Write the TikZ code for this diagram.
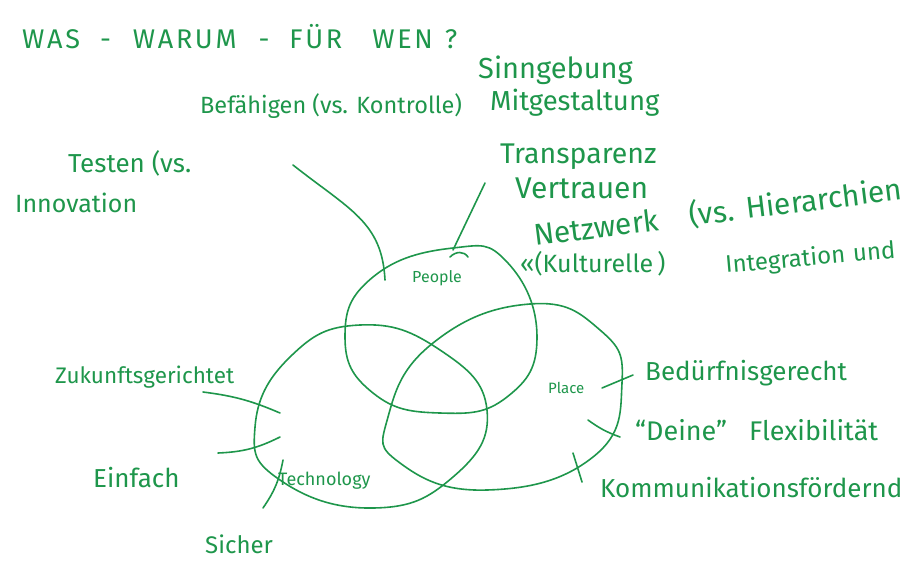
\documentclass[tikz,border=0pt]{standalone}
\usepackage{fontspec}
\setmainfont{Fira Sans}
\usepackage{xcolor}
\usepackage{tikz}
\usetikzlibrary{positioning,calc}

\definecolor{pen}{RGB}{30,150,75}

\begin{document}
\begin{tikzpicture}[x=1pt,y=-1pt,
  every node/.style={text=pen,inner sep=0pt,anchor=base west},
  hand/.style={font=\fontsize{#1}{#1}\selectfont},
  stroke/.style={draw=pen,line width=1.6pt,line cap=round,line join=round}]
  \useasboundingbox (0,0) rectangle (917,563);

  % title
  \node (title) [hand=27] at (22,48)
    {\addfontfeature{LetterSpace=10}WAS\hspace{20pt}-\hspace{22pt}WARUM\hspace{22pt}-\hspace{20pt}FÜR\hspace{30pt}WEN\hspace{12pt}?};

  % the three sets
  \draw[stroke] plot[smooth cycle,tension=0.8] coordinates
    {(453,248) (507,262) (537,337) (507,397) (440,413) (373,393) (345,337) (373,277)};
  \draw[stroke] plot[smooth cycle,tension=0.8] coordinates
    {(255,427) (290,357) (360,325) (440,350) (487,410) (453,477) (373,508) (280,480)};
  \draw[stroke] plot[smooth cycle,tension=0.8] coordinates
    {(388,417) (433,343) (530,304) (600,330) (622,383) (593,457) (487,490) (400,463)};

  \node (people) [hand=16] at (412,282) {People};
  \node (techn) [hand=18] at (278,485) {Technology};
  \node (place) [hand=15] at (548,393) {Place};

  % people
  \node (befae) [hand=23.5] at (200,113) {Befähigen (vs. Kontrolle)};
  \node (sinn) [hand=29] at (478,78) {Sinngebung};
  \node (mitg) [hand=27.5] at (490,110) {Mitgestaltung};
  \node (transp) [hand=28.5] at (500,163) {Transparenz};
  \node (vertr) [hand=30] at (515,198) {Vertrauen};
  \node (netzw) [hand=30,rotate=7] at (535,246) {Netzwerk};
  \node (hier) [hand=30,rotate=7] at (690,226) {(vs.\hspace{12pt}Hierarchien};
  \node (kultur) [hand=25] at (520,272) {«(Kulturelle\,)};
  \node (integ) [hand=24,rotate=5] at (726,273) {Integration\hspace{8pt}und};
  \node (testen) [hand=26] at (68,172) {Testen (vs.};
  \node (innov) [hand=25] at (15,212) {Innovation};

  % technology
  \node (zukunft) [hand=22.5] at (55,383) {Zukunftsgerichtet};
  \node (einf) [hand=26] at (93,487) {Einfach};
  \node (sicher) [hand=24] at (205,553) {Sicher};

  % place
  \node (bedarf) [hand=26] at (645,380) {Bedürfnisgerecht};
  \node (flex) [hand=27] at (635,440) {“Deine”\hspace{22pt}Flexibilität};
  \node (komm) [hand=26] at (600,497) {Kommunikationsfördernd};

  % leader lines
  \coordinate (befA) at (293,165); \coordinate (befB) at (385,280);
  \coordinate (peoA) at (485,183); \coordinate (peoB) at (453,250);
  \coordinate (zukA) at (203,392); \coordinate (zukB) at (280,413);
  \coordinate (einA) at (218,453); \coordinate (einB) at (280,437);
  \coordinate (sicA) at (263,508); \coordinate (sicB) at (283,460);
  \coordinate (bedA) at (602,388); \coordinate (bedB) at (633,375);
  \coordinate (flxA) at (588,420); \coordinate (flxB) at (620,437);
  \coordinate (komA) at (573,453); \coordinate (komB) at (582,482);

  \draw[stroke] (befA) .. controls (350,210) and (382,222) .. (befB);
  \draw[stroke] (peoA) -- (peoB);
  \draw[stroke] (450,257) .. controls (456,251) and (464,251) .. (468,257);
  \draw[stroke] (zukA) to[bend left=8] (zukB);
  \draw[stroke] (einA) to[bend right=12] (einB);
  \draw[stroke] (sicA) to[bend right=12] (sicB);
  \draw[stroke] (bedA) -- (bedB);
  \draw[stroke] (flxA) to[bend right=8] (flxB);
  \draw[stroke] (komA) -- (komB);
\end{tikzpicture}
\end{document}
